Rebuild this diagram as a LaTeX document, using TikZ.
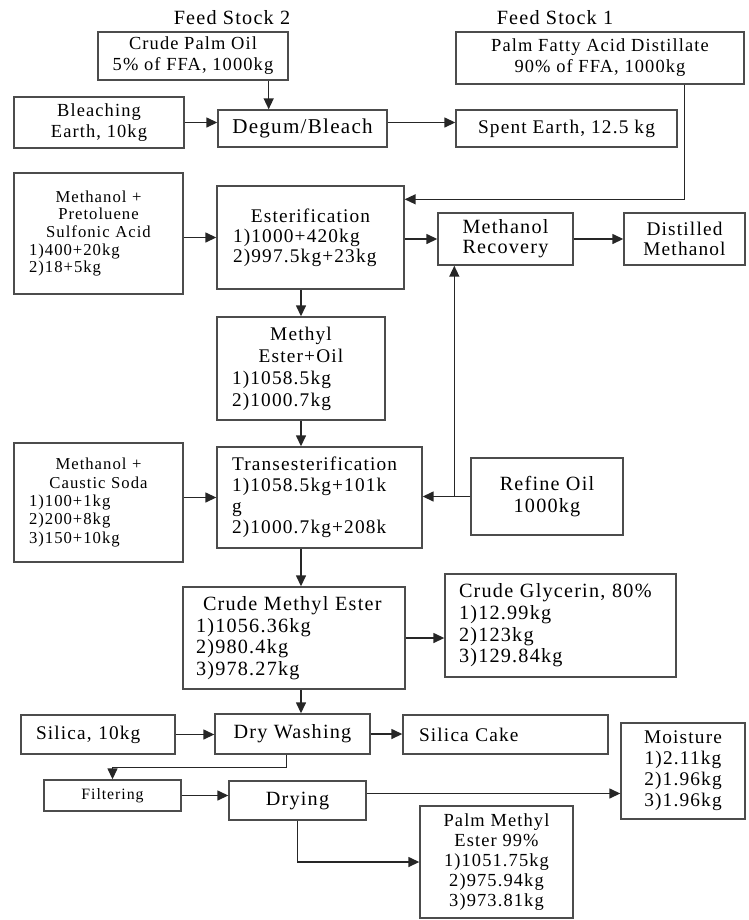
\documentclass[tikz,border=0pt]{standalone}
\usepackage{fontspec}
\setmainfont{Liberation Serif}[LetterSpace=6]
\usetikzlibrary{arrows.meta, calc}

\newcommand{\ctrline}[1]{\makebox[\linewidth]{#1}}
\newcommand{\fs}[2]{\fontsize{#1}{#2}\selectfont}

\begin{document}
\begin{tikzpicture}[
    x=0.02cm, y=-0.02cm,
    font=\fs{11}{12},
    stage/.style={draw=black!70, line width=0.8pt, align=center, inner sep=1pt},
    lstage/.style={stage, align=left},
    tag/.style={font=\fs{11.5}{12}},
    flow/.style={draw=black!85, line width=0.8pt, -{Triangle[length=2.2mm, width=2mm]}}
  ]
  \useasboundingbox (0,0) rectangle (748,920);

  % feed stocks and pre-treatment
  \node[tag] (fs2) at (232,18) {Feed Stock 2};
  \node[tag] (fs1) at (555,18) {Feed Stock 1};
  \node[stage, minimum width=3.8cm, minimum height=0.96cm, font=\fs{10.5}{12}] (cpo) at (193,56)
    {Crude Palm Oil\\5\% of FFA, 1000kg};
  \node[stage, minimum width=5.76cm, minimum height=1.04cm, font=\fs{10.5}{12}] (pfad) at (600,58)
    {Palm Fatty Acid Distillate\\90\% of FFA, 1000kg};
  \node[stage, minimum width=3.4cm, minimum height=1.02cm, font=\fs{10.5}{12}] (bleach) at (99,122.5)
    {Bleaching\\Earth, 10kg};
  \node[stage, minimum width=3.38cm, minimum height=0.74cm, font=\fs{12}{12}] (degum) at (302.5,128.5) {Degum/Bleach};
  \node[stage, minimum width=4.42cm, minimum height=0.74cm] (spent) at (566.5,128.5) {Spent Earth, 12.5 kg};

  % esterification
  \node[lstage, text width=2.78cm, inner xsep=0.3cm, minimum height=2.42cm, font=\fs{9.5}{10}] (ptsa) at (98.5,233.5)
    {\ctrline{Methanol +}\\\ctrline{Pretoluene}\\\ctrline{Sulfonic Acid}\\1)400+20kg\\2)18+5kg};
  \node[lstage, text width=3.1cm, inner xsep=0.32cm, minimum height=2.06cm, font=\fs{11}{11.5}] (ester) at (310.5,237.5)
    {\ctrline{Esterification}\\1)1000+420kg\\2)997.5kg+23kg};
  \node[stage, minimum width=2.7cm, minimum height=1.04cm, font=\fs{11.5}{11.5}] (mr) at (505.5,239) {Methanol\\Recovery};
  \node[stage, minimum width=2.42cm, minimum height=1.04cm, font=\fs{11}{11}] (dm) at (684.5,239) {Distilled\\Methanol};
  \node[lstage, text width=2.76cm, inner xsep=0.3cm, minimum height=2.06cm, font=\fs{11}{12.5}] (meo) at (301,368.5)
    {\ctrline{Methyl}\\\ctrline{Ester+Oil}\\1)1058.5kg\\2)1000.7kg};

  % transesterification
  \node[lstage, text width=2.78cm, inner xsep=0.3cm, minimum height=2.38cm, font=\fs{9.5}{10.4}] (cs) at (98.5,502.5)
    {\ctrline{Methanol +}\\\ctrline{Caustic Soda}\\1)100+1kg\\2)200+8kg\\3)150+10kg};
  \node[lstage, text width=3.5cm, inner xsep=0.3cm, minimum height=2.02cm] (trans) at (319.5,497.5)
    {Transesterification\\1)1058.5kg+101k\\g\\2)1000.7kg+208k};
  \node[stage, minimum width=3.04cm, minimum height=1.54cm, font=\fs{11.5}{13}] (ro) at (547,496.5) {Refine Oil\\1000kg};
  \node[lstage, text width=3.92cm, inner xsep=0.26cm, minimum height=2.04cm, font=\fs{11.5}{12.3}] (cme) at (294,638)
    {\hspace{0.14cm}Crude Methyl Ester\\1)1056.36kg\\2)980.4kg\\3)978.27kg};
  \node[lstage, text width=4.06cm, inner xsep=0.28cm, minimum height=2.06cm, font=\fs{11.5}{12.3}] (cg) at (560.5,625.5)
    {Crude Glycerin, 80\%\\1)12.99kg\\2)123kg\\3)129.84kg};

  % purification
  \node[lstage, text width=2.48cm, inner xsep=0.3cm, minimum height=0.78cm] (si) at (98,734.5) {Silica, 10kg};
  \node[stage, minimum width=3.1cm, minimum height=0.8cm, font=\fs{11.5}{12}] (dw) at (292.5,734) {Dry Washing};
  \node[lstage, text width=3.46cm, inner xsep=0.32cm, minimum height=0.78cm] (sc) at (505.5,734.5) {Silica Cake};
  \node[stage, minimum width=2.74cm, minimum height=0.62cm, font=\fs{9}{9}] (filt) at (112.5,795.5) {Filtering};
  \node[stage, minimum width=2.74cm, minimum height=0.78cm, font=\fs{11.5}{12}] (dry) at (297.5,800.5) {Drying};
  \node[stage, minimum width=2.48cm, minimum height=1.92cm] (mo) at (683,771)
    {Moisture\\1)2.11kg\\2)1.96kg\\3)1.96kg};
  \node[stage, minimum width=3.06cm, minimum height=2.24cm, font=\fs{10.5}{11.3}] (pme) at (496.5,862)
    {Palm Methyl\\Ester 99\%\\1)1051.75kg\\2)975.94kg\\3)973.81kg};

  % connectors
  \coordinate (cpoout) at ($(cpo.south east)+(-20,0)$);
  \draw[flow] (cpoout) -- (cpoout |- degum.north);
  \draw[flow] (bleach.east) -- (bleach.east -| degum.west);
  \draw[flow] (degum.east |- bleach.east) -- (spent.west |- bleach.east);
  \coordinate (pfadout) at ($(pfad.south east)+(-60,0)$);
  \coordinate (esterin) at ($(ester.north east)+(0,14)$);
  \draw[flow] (pfadout) |- (esterin);
  \draw[flow] (ptsa.east |- ester.west) -- (ester.west);
  \draw[flow] (ester.east |- mr.west) -- (mr.west);
  \draw[flow] (mr.east) -- (dm.west);
  \draw[flow] (meo.north |- ester.south) -- (meo.north);
  \draw[flow] (meo.south) -- (meo.south |- trans.north);
  \draw[flow] (cs.east |- trans.west) -- (trans.west);
  \coordinate (roj) at ($(ro.west)+(-16,0)$);
  \draw[flow] (ro.west) -- (ro.west -| trans.east);
  \draw[flow] (roj) -- (roj |- mr.south);
  \draw[flow] (meo.south |- trans.south) -- (meo.south |- cme.north);
  \draw[flow] (cme.east) -- (cme.east -| cg.west);
  \draw[flow] (meo.south |- cme.south) -- (meo.south |- dw.north);
  \draw[flow] (si.east) -- (si.east -| dw.west);
  \draw[flow] (dw.east) -- (dw.east -| sc.west);
  \coordinate (dwout) at ($(dw.south)+(-6,0)$);
  \draw[flow] (dwout) -- ++(0,13) -| (filt.north);
  \draw[flow] (filt.east) -- (filt.east -| dry.west);
  \coordinate (dryout) at ($(dry.east)+(0,-7)$);
  \draw[flow] (dryout) -- (dryout -| mo.west);
  \draw[flow] (dry.south) |- (pme.west);
\end{tikzpicture}
\end{document}
